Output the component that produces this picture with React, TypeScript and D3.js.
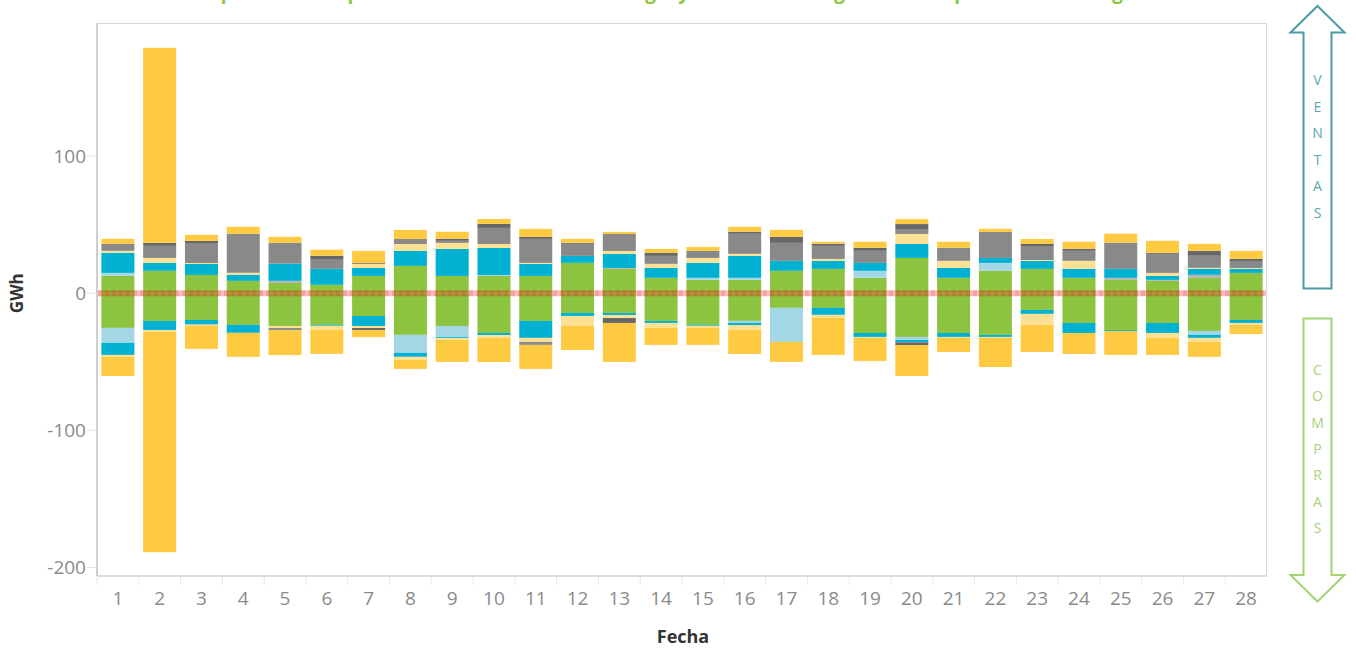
import React from "react";
import * as d3 from "d3";

const days = [1, 2, 3, 4, 5, 6, 7, 8, 9, 10, 11, 12, 13, 14, 15, 16, 17, 18, 19, 20, 21, 22, 23, 24, 25, 26, 27, 28];
const yTicks = [-200, -100, 0, 100];

const seriesKeys = ["verde", "grisClaro", "azulClaro", "azul", "amarilloClaro", "gris", "grisOscuro", "amarillo"];
const seriesColors = ["#8CC43F", "#B3B3B3", "#A3D7E6", "#00B1D1", "#FCE094", "#898989", "#676767", "#FDCA42"];

// Ventas (positive side)
const verdePos = [12.6, 16.3, 13.3, 9.0, 7.5, 6.1, 12.6, 19.9, 12.6, 12.6, 12.6, 22.1, 17.7, 11.2, 9.7, 9.7, 16.3, 17.7, 11.2, 25.7, 11.2, 16.3, 17.7, 11.2, 9.7, 9.0, 11.2, 14.8];
const grisClaroPos = [0, 0, 0, 0, 1.5, 0, 0, 0, 0, 0, 0, 0, 0.7, 0, 0, 0, 0, 0, 0, 0, 0, 0, 0, 0, 1.5, 0.7, 2.2, 0];
const azulClaroPos = [2.2, 0, 0, 0, 0, 0, 0, 0, 0, 0.7, 0, 0, 0, 0, 1.5, 1.5, 0, 0, 5.1, 0, 0, 5.8, 0, 0, 0, 0, 0, 0];
const azulPos = [14.6, 5.8, 8.0, 4.4, 12.6, 11.7, 5.8, 10.9, 19.7, 19.7, 8.8, 5.1, 10.2, 7.3, 10.9, 16.0, 7.3, 5.8, 5.8, 10.2, 7.3, 3.6, 5.8, 6.6, 6.6, 2.9, 4.4, 2.9];
const amarilloClaroPos = [1.5, 3.6, 0.7, 1.5, 0, 0, 2.9, 5.1, 4.4, 2.9, 0.7, 0, 2.2, 2.9, 3.6, 1.5, 0, 1.5, 0, 7.3, 5.1, 0, 0.7, 5.8, 0, 2.2, 0.7, 0.7];
const grisPos = [5.1, 8.8, 14.6, 28.4, 15.1, 6.6, 0.7, 3.6, 1.5, 11.7, 17.5, 8.8, 12.4, 5.8, 5.1, 14.6, 13.1, 9.5, 8.8, 3.6, 8.8, 19.0, 10.2, 7.3, 19.0, 13.9, 8.8, 5.1];
const grisOscuroPos = [0, 2.2, 1.5, 0, 0, 2.9, 0, 0, 1.5, 2.9, 1.5, 0.7, 0, 2.2, 0, 1.5, 4.4, 1.5, 2.2, 3.6, 0.7, 0, 1.5, 1.5, 0, 0.7, 3.6, 1.5];
const amarilloPos = [3.6, 142.2, 4.4, 5.1, 4.4, 4.4, 8.8, 6.6, 5.1, 3.6, 5.8, 2.9, 1.5, 2.9, 2.9, 3.6, 5.1, 1.5, 4.4, 3.6, 4.4, 2.2, 3.6, 5.1, 6.6, 8.8, 5.1, 5.8];

// Compras (negative side)
const verdeNeg = [-25.3, -20.2, -19.5, -23.1, -23.9, -23.1, -16.6, -30.4, -23.9, -29.0, -20.2, -14.4, -14.4, -20.2, -23.1, -20.2, -10.7, -10.7, -29.0, -31.9, -29.0, -30.4, -12.2, -21.7, -26.8, -21.7, -27.5, -19.5];
const grisClaroNeg = [0, 0, 0, 0, 0, 0, 0, 0, 0, 0, 0, 0, 0, 0, 0, 0, 0, 0, 0, 0, 0, 0, 0, 0, 0, 0, 0, 0];
const azulClaroNeg = [-10.9, 0, 0, 0, 0, 0, 0, -13.1, -8.0, 0, 0, 0, 0, 0, 0, -1.5, -24.8, 0, 0, -2.2, 0, 0, 0, 0, 0, 0, -2.9, 0];
const azulNeg = [-8.8, -6.6, -3.4, -5.8, 0, -0.7, -7.3, -2.9, -0.7, -1.5, -12.4, -2.2, -1.5, -1.5, -0.7, -1.5, 0, -5.1, -2.9, -1.5, -2.9, -1.5, -2.9, -7.3, -0.7, -7.3, -2.2, -2.2];
const amarilloClaroNeg = [-1.5, -1.5, -0.7, 0, -1.5, -2.9, -1.5, -2.2, -1.5, -2.2, -2.9, -7.3, -2.2, -3.6, -1.5, -3.6, 0, -2.2, -0.7, 0, -0.7, -0.7, -8.0, 0, 0, -3.6, -2.9, -1.5];
const grisNeg = [0, 0, 0, 0, -1.5, 0, 0, 0, 0, 0, -2.2, 0, 0, 0, 0, 0, 0, 0, 0, -0.7, 0, 0, 0, 0, 0, 0, 0, 0];
const grisOscuroNeg = [0, 0, 0, 0, 0, 0, -1.5, 0, 0, 0, 0, 0, -3.6, 0, 0, 0, 0, 0, 0, -1.5, 0, 0, 0, 0, 0, 0, 0, 0];
const amarilloNeg = [-13.9, -160.5, -17.0, -17.5, -18.2, -17.5, -5.1, -6.6, -16.0, -17.5, -17.5, -17.5, -28.4, -12.4, -12.4, -17.5, -14.6, -27.0, -16.8, -22.6, -10.2, -21.2, -19.7, -15.3, -17.5, -12.4, -10.9, -6.6];

const posSeries = [verdePos, grisClaroPos, azulClaroPos, azulPos, amarilloClaroPos, grisPos, grisOscuroPos, amarilloPos];
const negSeries = [verdeNeg, grisClaroNeg, azulClaroNeg, azulNeg, amarilloClaroNeg, grisNeg, grisOscuroNeg, amarilloNeg];

const titleText = "Balance diario de compras de la empresa comercializadora de energía y ventas de energía eléctrica por cada tecnología";

const W = 1356;
const H = 649;
const plot = { left: 97, right: 1267, top: 23, bottom: 576 };

function buildRows(series: number[][]) {
  return days.map((d, i) => {
    const row: any = { day: d };
    seriesKeys.forEach((k, j) => (row[k] = series[j][i]));
    return row;
  });
}

export default function App() {
  const x = d3.scaleBand<number>().domain(days).range([plot.left, plot.right]).paddingInner(0.21).paddingOuter(0.105);
  const y = d3.scaleLinear().domain([-206.2, 197]).range([plot.bottom, plot.top]);

  const stack = d3.stack<any>().keys(seriesKeys);
  const posStack = stack(buildRows(posSeries));
  const negStack = stack(buildRows(negSeries));

  const rects: React.ReactNode[] = [];
  [posStack, negStack].forEach((st, si) => {
    st.forEach((layer, li) => {
      layer.forEach((seg, di) => {
        const a = seg[0];
        const b = seg[1];
        if (Math.abs(b - a) < 1e-9) return;
        const y0 = y(Math.max(a, b));
        const y1 = y(Math.min(a, b));
        rects.push(
          <rect
            key={`${si}-${li}-${di}`}
            x={x(seg.data.day)}
            y={y0}
            width={x.bandwidth()}
            height={y1 - y0}
            fill={seriesColors[li]}
          />
        );
      });
    });
  });

  const step = x.step();
  const tickFont = "'Open Sans', sans-serif";
  const up = { cx: 1317.5, tipY: 6, headY: 32.5, bottomY: 288.5, half: 14, headHalf: 27 };
  const dn = { cx: 1317.5, tipY: 601.5, headY: 575, topY: 318.5, half: 14, headHalf: 27 };
  const upPath = `M${up.cx},${up.tipY} L${up.cx + up.headHalf},${up.headY} L${up.cx + up.half},${up.headY} L${up.cx + up.half},${up.bottomY} L${up.cx - up.half},${up.bottomY} L${up.cx - up.half},${up.headY} L${up.cx - up.headHalf},${up.headY} Z`;
  const dnPath = `M${dn.cx},${dn.tipY} L${dn.cx + dn.headHalf},${dn.headY} L${dn.cx + dn.half},${dn.headY} L${dn.cx + dn.half},${dn.topY} L${dn.cx - dn.half},${dn.topY} L${dn.cx - dn.half},${dn.headY} L${dn.cx - dn.headHalf},${dn.headY} Z`;
  const ventas = "VENTAS".split("");
  const compras = "COMPRAS".split("");

  return (
    <svg width={W} height={H} style={{ position: "absolute", left: 0, top: 0, background: "#fff" }}>
      <text x={12} y={-1} fontFamily={tickFont} fontWeight={700} fontSize={19} fill="#8DC63F">
        {titleText}
      </text>

      {/* plot frame */}
      <line x1={plot.left} x2={plot.right} y1={plot.top + 0.5} y2={plot.top + 0.5} stroke="#d6d6d6" strokeWidth={1} />
      <line x1={plot.right - 0.5} x2={plot.right - 0.5} y1={plot.top} y2={plot.bottom} stroke="#d6d6d6" strokeWidth={1} />
      <line x1={plot.left} x2={plot.right} y1={plot.bottom} y2={plot.bottom} stroke="#d0d0d0" strokeWidth={1.5} />
      <line x1={plot.left} x2={plot.left} y1={plot.top} y2={plot.bottom} stroke="#cfcfcf" strokeWidth={2} />

      {/* y ticks */}
      {yTicks.map((t) => (
        <g key={t}>
          <line x1={87} x2={96} y1={y(t)} y2={y(t)} stroke="#e3e3e3" strokeWidth={1} />
          <text x={86} y={y(t)} dy="0.36em" textAnchor="end" fontFamily={tickFont} fontSize={19} fill="#8a8a8a">
            {t}
          </text>
        </g>
      ))}
      <text transform={`translate(23,${y(0)}) rotate(-90)`} textAnchor="middle" fontFamily={tickFont} fontWeight={700} fontSize={17} fill="#333">
        GWh
      </text>

      {/* x ticks */}
      {days.map((d, i) => (
        <line key={`xt${d}`} x1={plot.left + i * step} x2={plot.left + i * step} y1={plot.bottom + 1} y2={plot.bottom + 9} stroke="#e6e6e6" strokeWidth={1} />
      ))}
      {days.map((d) => (
        <text key={`xl${d}`} x={(x(d) as number) + x.bandwidth() / 2} y={598} dy="0.36em" textAnchor="middle" fontFamily={tickFont} fontSize={19} fill="#8a8a8a">
          {d}
        </text>
      ))}
      <text x={683} y={637} dy="0.36em" textAnchor="middle" fontFamily={tickFont} fontWeight={700} fontSize={18} fill="#333">
        Fecha
      </text>

      {/* bars */}
      <g>{rects}</g>

      {/* zero reference line */}
      <line x1={plot.left + 1} x2={plot.right - 1} y1={y(0)} y2={y(0)} stroke="rgb(240,20,20)" strokeOpacity={0.28} strokeWidth={6} />
      <line x1={plot.left + 1} x2={plot.right - 1} y1={y(0)} y2={y(0)} stroke="rgb(220,40,40)" strokeOpacity={0.18} strokeWidth={6} strokeDasharray="4,3" />

      {/* arrows */}
      <path d={upPath} fill="#fff" stroke="#4A9CA6" strokeWidth={2} strokeLinejoin="miter" />
      {ventas.map((c, i) => (
        <text key={`v${i}`} x={up.cx} y={80 + i * 26.6} dy="0.36em" textAnchor="middle" fontFamily={tickFont} fontSize={14} fill="#5AA9B2">
          {c}
        </text>
      ))}
      <path d={dnPath} fill="#fff" stroke="#A6D474" strokeWidth={2} strokeLinejoin="miter" />
      {compras.map((c, i) => (
        <text key={`c${i}`} x={dn.cx} y={370 + i * 26.3} dy="0.36em" textAnchor="middle" fontFamily={tickFont} fontSize={14} fill="#A9D27A">
          {c}
        </text>
      ))}
    </svg>
  );
}
